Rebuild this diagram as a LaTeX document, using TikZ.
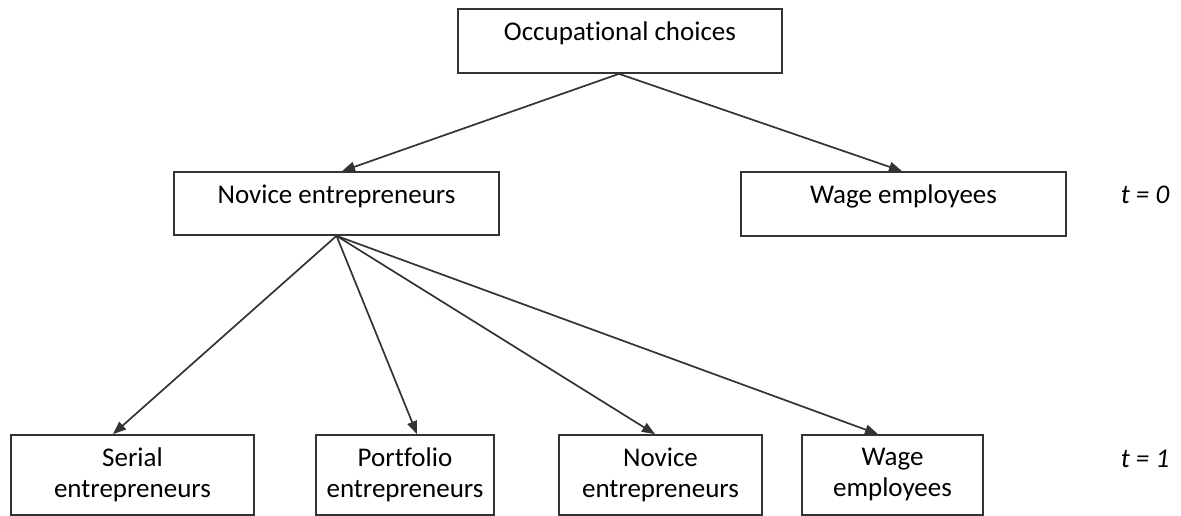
\documentclass[tikz,border=0pt]{standalone}
\usepackage{fontspec}
\setmainfont{Carlito}[RawFeature=-liga]
\usetikzlibrary{arrows.meta}
\begin{document}
\begin{tikzpicture}[x=1pt,y=-1pt,
  box/.style={draw=black!80, line width=1.7pt, rectangle, inner sep=0pt},
  txt/.style={font=\fontsize{27}{31}\selectfont, anchor=base, inner sep=0pt},
  btxt/.style={box, font=\fontsize{27}{31}\selectfont, align=center, minimum height=80pt},
  arr/.style={draw=black!80, line width=1.7pt, -{Triangle[length=13pt,width=10pt]}}]
\useasboundingbox (0,0) rectangle (1181,516);
% level 0
\node[box, minimum width=324pt, minimum height=64pt] (top) at (620,41) {};
\node[txt] (toptxt) at (620,41) {Occupational choices};
% level 1
\node[box, minimum width=325pt, minimum height=63pt] (nov) at (336.5,203.5) {};
\node[txt] (novtxt) at (336.5,203) {Novice entrepreneurs};
\node[box, minimum width=325pt, minimum height=64pt] (wage) at (903.5,204) {};
\node[txt] (wagetxt) at (903.5,203) {Wage employees};
\node[txt, font=\fontsize{27}{31}\selectfont\itshape] (t0) at (1145,203) {t = 0};
% level 2
\node[btxt, minimum width=243pt] (ser) at (132.5,475) {Serial\\entrepreneurs};
\node[btxt, minimum width=178pt] (port) at (405,475) {Portfolio\\entrepreneurs};
\node[btxt, minimum width=203pt] (nov2) at (660.5,475) {Novice\\entrepreneurs};
\node[btxt, minimum width=181pt] (wage2) at (892.5,475) {Wage\\employees};
\node[txt, font=\fontsize{27}{31}\selectfont\itshape] (t1) at (1145,467) {t = 1};
% connectors
\draw[arr] ([xshift=-1pt]top.south) -- ([xshift=5.5pt]nov.north);
\draw[arr] ([xshift=-1pt]top.south) -- ([xshift=-1.5pt]wage.north);
\draw[arr] (nov.south) -- ([xshift=-19.5pt]ser.north);
\draw[arr] (nov.south) -- ([xshift=12pt]port.north);
\draw[arr] (nov.south) -- ([xshift=-5.5pt]nov2.north);
\draw[arr] (nov.south) -- ([xshift=-14.5pt]wage2.north);
\end{tikzpicture}
\end{document}
